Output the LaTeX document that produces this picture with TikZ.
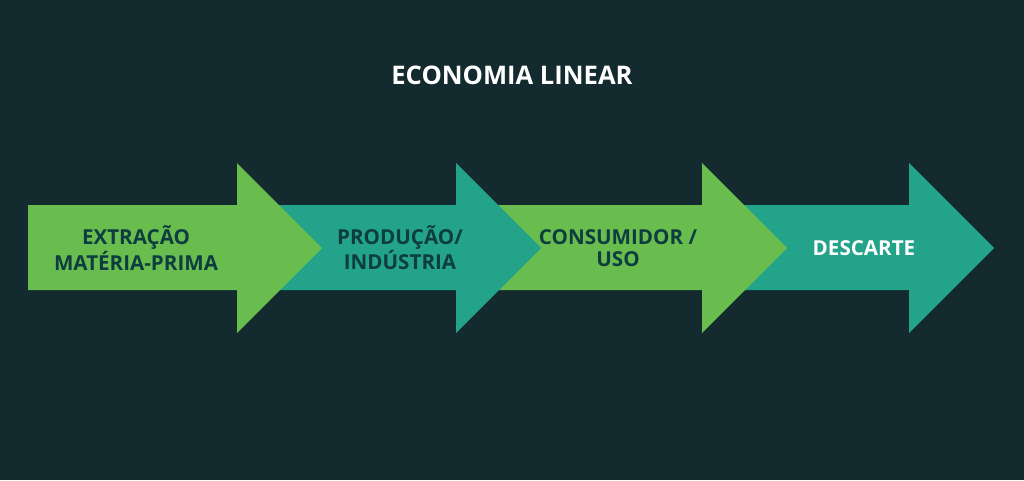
\documentclass[tikz,border=0pt]{standalone}
\usepackage{fontspec}
\setmainfont{Open Sans}
\definecolor{bg}{HTML}{132A2E}
\definecolor{grn}{HTML}{69BC4E}
\definecolor{teal}{HTML}{22A38A}
\definecolor{dtxt}{HTML}{0E3D40}
\begin{document}
\begin{tikzpicture}[x=1pt,y=-1pt,
  lab/.style={font=\fontsize{20.6}{22.5}\selectfont\bfseries, align=center, text=dtxt, inner sep=0pt},
  ttl/.style={font=\fontsize{25.6}{28}\selectfont\bfseries, text=white, inner sep=0pt}]
\fill[bg] (0,0) rectangle (1024,480);
\useasboundingbox (0,0) rectangle (1024,480);
\newcommand{\arw}[4]{\fill[#4] (#1,205) -- (#2,205) -- (#2,163) -- (#3,248) -- (#2,333) -- (#2,290) -- (#1,290) -- cycle;}
\arw{702}{909}{994}{teal}
\arw{456}{702}{787}{grn}
\arw{237}{456}{541}{teal}
\arw{28}{237}{322}{grn}
\node[ttl] (title) at (512,75) {ECONOMIA LINEAR};
\node[lab] (a1) at (136,248) {EXTRAÇÃO\\MATÉRIA-PRIMA};
\node[lab] (a2) at (400,248) {PRODUÇÃO/\\INDÚSTRIA};
\node[lab] (a3) at (618,248) {CONSUMIDOR /\\USO};
\node[lab, text=white] (a4) at (864,248) {DESCARTE};
\end{tikzpicture}
\end{document}
